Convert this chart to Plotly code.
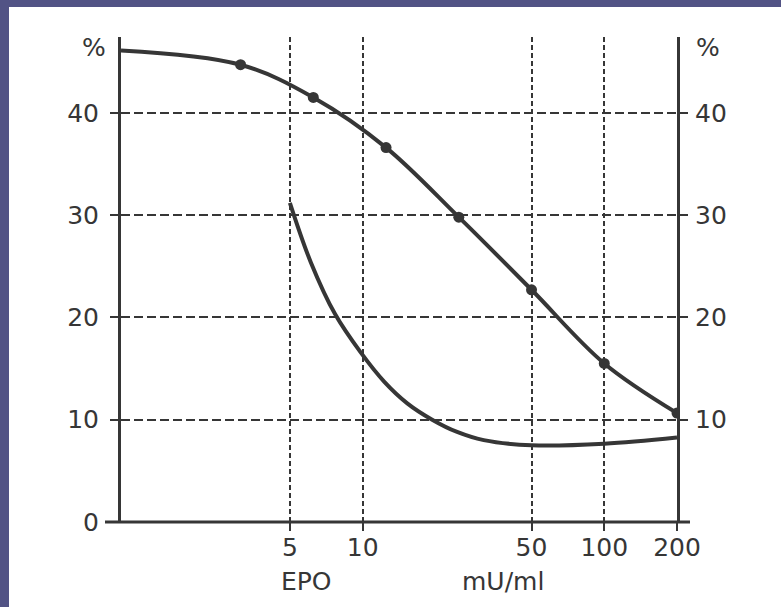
import plotly.graph_objects as go

# ---- data ----
upper_x = [1, 3.125, 6.25, 12.5, 25, 50, 100, 200]
upper_y = [46.1, 44.7, 41.5, 36.6, 29.8, 22.7, 15.5, 10.65]
marker_x = [3.125, 6.25, 12.5, 25, 50, 100, 200]
marker_y = [44.7, 41.5, 36.6, 29.8, 22.7, 15.5, 10.65]

lower_x = [5, 6.1, 7.7, 9.8, 12.3, 15.3, 19.4, 24.6, 31.7, 50, 100, 200]
lower_y = [31.2, 25.4, 20.3, 16.6, 13.7, 11.6, 10.0, 8.8, 8.0, 7.5, 7.65, 8.25]

x_tickvals = [5, 10, 50, 100, 200]
x_ticktext = ["5", "10", "50", "100", "200"]
yl_tickvals = [0, 10, 20, 30, 40]
yr_tickvals = [10, 20, 30, 40]

INK = "#363636"
FONT = dict(family="DejaVu Sans", size=25, color=INK)

fig = go.Figure()
fig.add_trace(go.Scatter(x=upper_x, y=upper_y, mode="lines",
                         line=dict(color=INK, width=4, shape="spline"),
                         hoverinfo="skip", showlegend=False))
fig.add_trace(go.Scatter(x=marker_x, y=marker_y, mode="markers",
                         marker=dict(color=INK, size=11),
                         hoverinfo="skip", showlegend=False))
fig.add_trace(go.Scatter(x=lower_x, y=lower_y, mode="lines", yaxis="y2",
                         line=dict(color=INK, width=4, shape="spline"),
                         hoverinfo="skip", showlegend=False))

W, H = 781, 607
L, R, T, B = 121, 104, 37, 85
pw, ph = W - L - R, H - T - B
yr = [0, ph / 10.23]

def px_x(p):
    return (p - L) / pw

def px_y(p):
    return (H - B - p) / ph

fig.update_layout(
    width=W, height=H,
    margin=dict(l=L, r=R, t=T, b=B, pad=0),
    paper_bgcolor="#525385",
    plot_bgcolor="rgba(0,0,0,0)",
    font=FONT,
    xaxis=dict(type="log", range=[0, 2.30103], tickvals=x_tickvals, ticktext=x_ticktext,
               showgrid=True, gridcolor=INK, gridwidth=2, griddash="5px,3px",
               showline=False, zeroline=False, ticks="outside", ticklen=8,
               tickwidth=2, tickcolor=INK, tickfont=FONT, fixedrange=True,
               ticklabelstandoff=-5),
    yaxis=dict(range=yr, tickvals=yl_tickvals, showgrid=True, gridcolor=INK,
               gridwidth=2, griddash="9px,4px", showline=True, linecolor=INK,
               linewidth=3, zeroline=False, ticks="outside", ticklen=8,
               tickwidth=2, tickcolor=INK, tickfont=FONT, ticklabelstandoff=6),
    yaxis2=dict(range=yr, tickvals=yr_tickvals, overlaying="y", side="right",
                anchor="x", showgrid=False, showline=True, linecolor=INK,
                linewidth=3, zeroline=False, ticks="outside", ticklen=8,
                tickwidth=2, tickcolor=INK, tickfont=FONT, ticklabelstandoff=2),
    shapes=[
        dict(type="rect", xref="paper", yref="paper", layer="below",
             x0=px_x(9), x1=px_x(790), y0=px_y(7), y1=px_y(620),
             fillcolor="white", line=dict(width=0)),
        dict(type="line", xref="paper", yref="paper", layer="above",
             x0=px_x(105), x1=px_x(690), y0=0, y1=0,
             line=dict(color=INK, width=3)),
    ],
    annotations=[
        dict(text="%", xref="paper", yref="paper", x=px_x(94), y=px_y(47),
             showarrow=False, font=FONT, xanchor="center", yanchor="middle"),
        dict(text="%", xref="paper", yref="paper", x=px_x(708), y=px_y(47),
             showarrow=False, font=FONT, xanchor="center", yanchor="middle"),
        dict(text="EPO", xref="paper", yref="paper", x=px_x(306), y=px_y(581),
             showarrow=False, font=FONT, xanchor="center", yanchor="middle"),
        dict(text="mU/ml", xref="paper", yref="paper", x=px_x(503), y=px_y(581),
             showarrow=False, font=FONT, xanchor="center", yanchor="middle"),
    ],
)

fig.write_html(
    "out.html",
    config={"displayModeBar": False},
    post_script="document.body.style.margin='0';document.body.style.background='#525385';",
)
